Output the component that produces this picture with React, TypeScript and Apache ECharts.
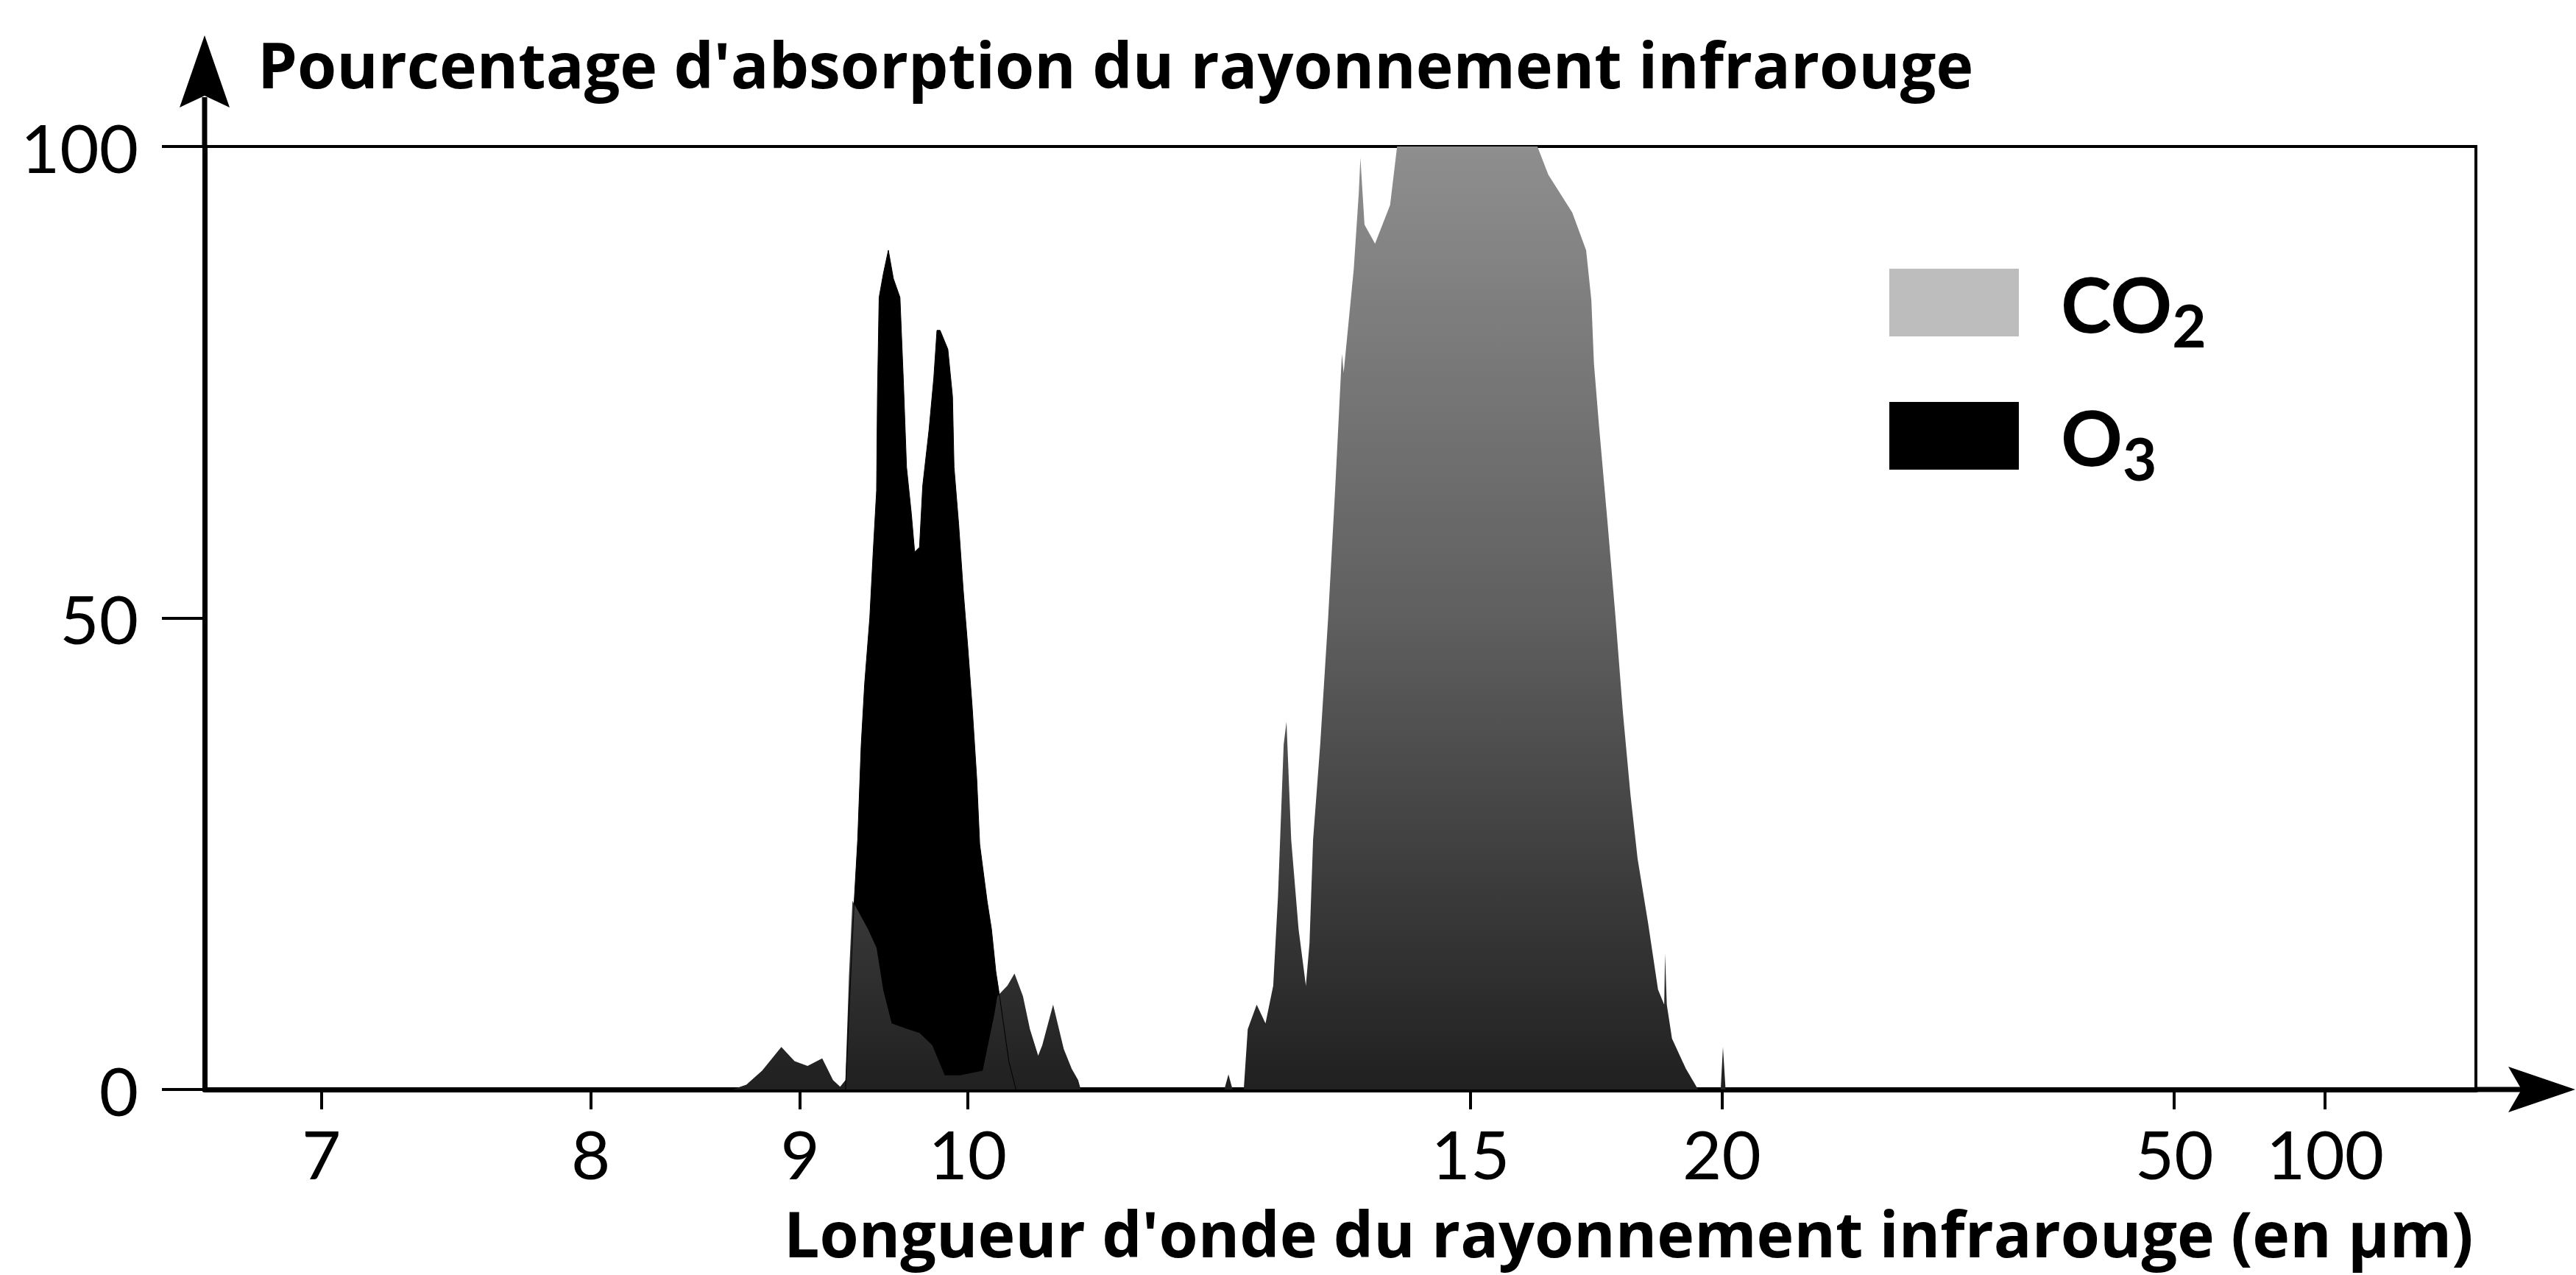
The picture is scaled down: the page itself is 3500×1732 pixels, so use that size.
import React, { useEffect, useRef } from "react";
import * as echarts from "echarts";

// ---- Data (wavelength in µm, absorption in %) ----
const xTickWavelengths = [7, 8, 9, 10, 15, 20, 50, 100];
const yTickStep = 50;

const o3Wavelength = [
  9.25, 9.3, 9.32, 9.34, 9.36, 9.39, 9.41, 9.43, 9.435, 9.445, 9.47, 9.5, 9.53, 9.57, 9.59, 9.61,
  9.64, 9.66, 9.69, 9.71, 9.75, 9.78, 9.8, 9.82, 9.87, 9.9, 9.91, 9.94, 9.97, 10.0, 10.03, 10.06,
  10.08, 10.13, 10.16, 10.19, 10.21, 10.28, 10.33,
];
const o3Absorption = [
  0, 20, 26.5, 36.5, 43, 50, 57, 63.5, 73.5, 84, 86.5, 89, 86, 84, 75.5, 66,
  61, 57, 57.5, 64, 70, 75.5, 80.5, 80.5, 78.5, 73.5, 66, 60, 53, 47, 40.5, 33,
  26, 20, 17, 12.5, 10.5, 3, 0,
];

const co2Wavelength = [
  8.65, 8.72, 8.8, 8.9, 8.97, 9.04, 9.12, 9.18, 9.22, 9.25, 9.27, 9.29, 9.32, 9.35, 9.38, 9.43,
  9.47, 9.52, 9.6, 9.69, 9.77, 9.85, 9.95, 10.1, 10.18, 10.2, 10.27, 10.32, 10.38, 10.43, 10.49,
  10.52, 10.6, 10.68, 10.74, 10.79, 10.81,
  12.05, 12.09, 12.13, 12.24, 12.28, 12.37, 12.46, 12.54, 12.59, 12.65, 12.68, 12.73, 12.81,
  12.89, 12.93, 12.97, 13.05, 13.14, 13.22, 13.29, 13.3, 13.32, 13.44, 13.5, 13.52, 13.57, 13.7,
  13.89, 13.98, 16.07, 16.26, 16.69, 16.95, 17.05, 17.1, 17.2, 17.37, 17.53, 17.68, 17.84, 17.99,
  18.22, 18.44, 18.58, 18.6, 18.64, 18.76, 19.09, 19.39, 19.97, 20.03, 20.1,
];
const co2Absorption = [
  0, 0.5, 2, 4.5, 3, 2.5, 3.3, 1, 0.3, 1, 12, 20, 19, 18, 17, 15,
  10.5, 7, 6.5, 6, 4.7, 1.5, 1.5, 2, 8, 9.9, 11, 12.3, 9.9, 6.4, 3.6,
  4.7, 9, 4.3, 2.2, 1, 0,
  0, 1.6, 0, 0, 6.4, 9, 7, 11, 20.5, 36.6, 39, 26.5, 17,
  11, 15.5, 26.5, 36.6, 50, 63.5, 76.3, 78, 76, 87, 95, 98.8, 91.7, 89.7,
  93.8, 100, 100, 97, 93, 89, 83.7, 77, 70.3, 60, 50, 40, 31.2, 24.5,
  17.6, 10.6, 9, 14.4, 9, 5.4, 2.2, 0, 0, 4.5, 0,
];

const seriesNames = ["CO₂", "O₃"];

// The horizontal scale is linear in wavenumber (cm⁻¹) = 10000 / λ(µm)
const toWavenumber = (um: number) => 10000 / um;
const X_MAX_WAVENUMBER = 1506; // left edge of the frame (≈ 6.64 µm)

const FONT = "Lato";
const TITLE_FONT = "Open Sans";
const GRID_LEFT = 278;
const GRID_RIGHT_X = 3364;
const GRID_TOP = 199;
const GRID_BOTTOM_Y = 1480;
const W = 3500;
const H = 1732;

export default function App() {
  const ref = useRef<HTMLDivElement>(null);

  useEffect(() => {
    if (!ref.current) return;
    const chart = echarts.init(ref.current, null, { renderer: "svg" });

    const o3Data = o3Wavelength.map((l, i) => [toWavenumber(l), o3Absorption[i]]);
    const co2Data = co2Wavelength.map((l, i) => [toWavenumber(l), co2Absorption[i]]);
    const tickValues = xTickWavelengths.map(toWavenumber);

    const co2Fill = new echarts.graphic.LinearGradient(0, 0, 0, 1, [
      { offset: 0, color: "#8e8e8e" },
      { offset: 0.5, color: "#5f5f5f" },
      { offset: 1, color: "#202020" },
    ]);

    const option: any = {
      animation: false,
      backgroundColor: "#ffffff",
      grid: {
        left: GRID_LEFT,
        right: W - GRID_RIGHT_X,
        top: GRID_TOP,
        bottom: H - GRID_BOTTOM_Y,
        show: true,
        borderColor: "#000",
        borderWidth: 4,
        backgroundColor: "transparent",
      },
      legend: {
        orient: "vertical",
        left: 2567,
        top: 341,
        padding: 0,
        itemGap: 41,
        itemWidth: 176,
        itemHeight: 92,
        icon: "rect",
        selectedMode: false,
        itemStyle: { borderWidth: 0 },
        data: [
          { name: seriesNames[0], itemStyle: { color: "#bdbdbd" } },
          { name: seriesNames[1], itemStyle: { color: "#000000" } },
        ],
        formatter: (name: string) => (name === seriesNames[0] ? "CO{s|2}" : "O{s|3}"),
        textStyle: {
          fontFamily: FONT,
          fontWeight: "bold",
          fontSize: 104,
          color: "#000",
          lineHeight: 140,
          padding: [0, 0, 0, 52],
          rich: {
            s: {
              fontFamily: FONT,
              fontWeight: "bold",
              fontSize: 80,
              lineHeight: 80,
              verticalAlign: "bottom",
              color: "#000",
            },
          },
        },
      },
      xAxis: {
        type: "value",
        min: 0,
        max: X_MAX_WAVENUMBER,
        inverse: true,
        splitLine: { show: false },
        axisLine: { show: true, onZero: false, lineStyle: { color: "#000", width: 7 } },
        axisTick: {
          show: true,
          customValues: tickValues,
          length: 27,
          lineStyle: { color: "#000", width: 4 },
        },
        axisLabel: {
          show: true,
          customValues: tickValues,
          formatter: (v: number) => String(Math.round(10000 / v)),
          margin: 40,
          fontSize: 92,
          fontFamily: FONT,
          color: "#000",
        },
      },
      yAxis: {
        type: "value",
        min: 0,
        max: 100,
        interval: yTickStep,
        splitLine: { show: false },
        axisLine: { show: true, onZero: false, lineStyle: { color: "#000", width: 7 } },
        axisTick: { show: true, length: 58, lineStyle: { color: "#000", width: 4 } },
        axisLabel: {
          margin: 90,
          fontSize: 92,
          fontFamily: FONT,
          color: "#000",
        },
      },
      series: [
        {
          name: seriesNames[1],
          type: "line",
          data: o3Data,
          symbol: "none",
          showSymbol: false,
          smooth: false,
          lineStyle: { color: "#000", width: 1 },
          itemStyle: { color: "#000" },
          areaStyle: { color: "#000", opacity: 1 },
        },
        {
          name: seriesNames[0],
          type: "line",
          data: co2Data,
          symbol: "none",
          showSymbol: false,
          smooth: false,
          lineStyle: { color: "#555", width: 0 },
          itemStyle: { color: "#8a8a8a" },
          areaStyle: { color: co2Fill, opacity: 1 },
        },
      ],
      graphic: [
        // y axis extension + arrow
        {
          type: "line",
          shape: { x1: GRID_LEFT, y1: GRID_TOP, x2: GRID_LEFT, y2: 132 },
          style: { stroke: "#000", lineWidth: 7 },
        },
        {
          type: "polygon",
          shape: {
            points: [
              [GRID_LEFT, 48],
              [GRID_LEFT + 34, 146],
              [GRID_LEFT, 130],
              [GRID_LEFT - 34, 146],
            ],
          },
          style: { fill: "#000" },
        },
        // x axis extension + arrow
        {
          type: "line",
          shape: { x1: GRID_RIGHT_X, y1: GRID_BOTTOM_Y, x2: 3430, y2: GRID_BOTTOM_Y },
          style: { stroke: "#000", lineWidth: 7 },
        },
        {
          type: "polygon",
          shape: {
            points: [
              [3499, GRID_BOTTOM_Y],
              [3408, GRID_BOTTOM_Y - 31],
              [3426, GRID_BOTTOM_Y],
              [3408, GRID_BOTTOM_Y + 31],
            ],
          },
          style: { fill: "#000" },
        },
        // axis titles
        {
          type: "text",
          x: 350,
          y: 86,
          style: {
            text: "Pourcentage d'absorption du rayonnement infrarouge",
            fill: "#000",
            fontFamily: TITLE_FONT,
            fontWeight: "bold",
            fontSize: 86,
            lineHeight: 90,
            align: "left",
            verticalAlign: "middle",
          },
        },
        {
          type: "text",
          x: 1065,
          y: 1674,
          style: {
            text: "Longueur d'onde du rayonnement infrarouge (en µm)",
            fill: "#000",
            fontFamily: TITLE_FONT,
            fontWeight: "bold",
            fontSize: 86,
            lineHeight: 86,
            align: "left",
            verticalAlign: "middle",
          },
        },
      ],
    };

    chart.setOption(option);
    return () => chart.dispose();
  }, []);

  return (
    <div
      ref={ref}
      style={{ position: "absolute", left: 0, top: 0, width: W, height: H, background: "#fff" }}
    />
  );
}
